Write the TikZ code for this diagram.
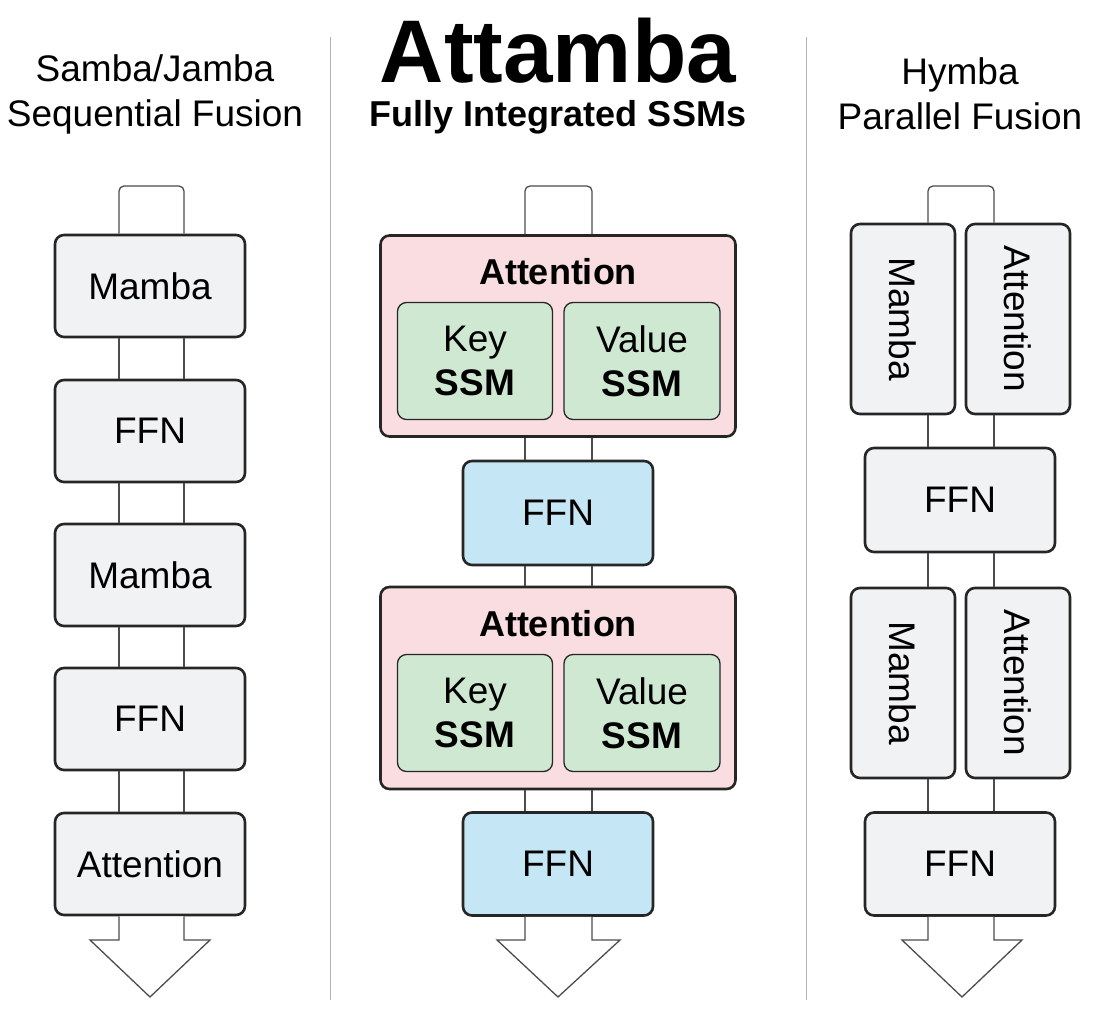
\documentclass[tikz,border=0pt]{standalone}
\usepackage{fontspec}
\setmainfont{Liberation Sans}
\begin{document}
\begin{tikzpicture}[x=1pt,y=-1pt,
 box/.style={draw=black!85,line width=2.6pt,rounded corners=9pt,fill=#1,inner sep=0pt,font=\fontsize{37}{44}\selectfont,align=center},
 box/.default={gray!8},
 conn/.style={draw=black!70,line width=1.3pt},
 div/.style={draw=gray!60,line width=1pt},
 ttl/.style={font=\fontsize{37}{45}\selectfont,align=center}]
\useasboundingbox (0,0) rectangle (1112,1010);
\definecolor{gbox}{HTML}{F1F2F4}
\definecolor{pbox}{HTML}{FADDE0}
\definecolor{grn}{HTML}{CFE8D2}
\definecolor{bbox}{HTML}{C5E6F4}
% dividers
\draw[div] (330,37) -- (330,1000);
\draw[div] (806,37) -- (806,1000);
% titles
\node[ttl] (t1) at (155,94) {Samba/Jamba\\Sequential Fusion};
\node[font=\fontsize{89}{89}\selectfont\bfseries,inner sep=0pt] (t2) at (558,51) {Attamba};
\node[font=\fontsize{36}{36}\selectfont\bfseries,inner sep=0pt] (t2b) at (558,117) {Fully Integrated SSMs};
\node[ttl] (t3) at (960,94) {Hymba\\Parallel Fusion};
% ---------- left
\newcommand{\lbox}[4]{\node[box=gbox,minimum width=190pt,minimum height=102pt] (#1) at (150,#2) {#3};}
\lbox{a1}{286}{Mamba}{}
\lbox{a2}{431}{FFN}{}
\lbox{a3}{575}{Mamba}{}
\lbox{a4}{719}{FFN}{}
\lbox{a5}{864}{Attention}{}
\foreach \u/\v in {a1/a2,a2/a3,a3/a4,a4/a5}{
 \draw[conn] (\u.south -| 119,0) -- (\v.north -| 119,0);
 \draw[conn] (\u.south -| 184,0) -- (\v.north -| 184,0);}
\draw[conn,rounded corners=5pt] (a1.north -| 119,0) -- (119,186) -- (184,186) -- (a1.north -| 184,0);
\coordinate (la) at (150,997);
\draw[conn,fill=white] (a5.south -| 119,0) -- (119,940) -- (90,940) -- (la) -- (210,940) -- (184,940) -- (a5.south -| 184,0);
% ---------- middle
\node[box=pbox,minimum width=355pt,minimum height=201pt] (b1) at (558,336) {};
\node[font=\fontsize{36}{36}\selectfont\bfseries] (b1t) at (558,272) {Attention};
\node[box=grn,line width=1.3pt,minimum width=155pt,minimum height=117pt] (b1k) at (475,361) {Key\\\textbf{SSM}};
\node[box=grn,line width=1.3pt,minimum width=156pt,minimum height=117pt] (b1v) at (642,361) {Value\\\textbf{SSM}};
\node[box=bbox,minimum width=190pt,minimum height=104pt] (b2) at (558,513) {FFN};
\node[box=pbox,minimum width=355pt,minimum height=202pt] (b3) at (558,688) {};
\node[font=\fontsize{36}{36}\selectfont\bfseries] (b3t) at (558,624) {Attention};
\node[box=grn,line width=1.3pt,minimum width=155pt,minimum height=117pt] (b3k) at (475,713) {Key\\\textbf{SSM}};
\node[box=grn,line width=1.3pt,minimum width=156pt,minimum height=117pt] (b3v) at (642,713) {Value\\\textbf{SSM}};
\node[box=bbox,minimum width=190pt,minimum height=103pt] (b4) at (558,864) {FFN};
\foreach \u/\v in {b1/b2,b2/b3,b3/b4}{
 \draw[conn] (\u.south -| 525,0) -- (\v.north -| 525,0);
 \draw[conn] (\u.south -| 592,0) -- (\v.north -| 592,0);}
\draw[conn,rounded corners=5pt] (b1.north -| 525,0) -- (525,186) -- (592,186) -- (b1.north -| 592,0);
\coordinate (ma) at (558,997);
\draw[conn,fill=white] (b4.south -| 525,0) -- (525,940) -- (497,940) -- (ma) -- (620,940) -- (592,940) -- (b4.south -| 592,0);
% ---------- right
\newcommand{\rbox}[4]{\node[box=gbox,minimum width=104pt,minimum height=190pt] (#1) at (#2,#3) {\rotatebox{-90}{#4}};}
\rbox{c1}{903}{319}{Mamba}
\rbox{c2}{1018}{319}{Attention}
\node[box=gbox,minimum width=190pt,minimum height=104pt] (c3) at (960,500) {FFN};
\rbox{c4}{903}{683}{Mamba}
\rbox{c5}{1018}{683}{Attention}
\node[box=gbox,minimum width=190pt,minimum height=103pt] (c6) at (960,864) {FFN};
\foreach \u/\v/\x in {c1/c3/928,c2/c3/994,c3/c4/928,c3/c5/994,c4/c6/928,c5/c6/994}{
 \draw[conn] (\u.south -| \x,0) -- (\v.north -| \x,0);}
\draw[conn,rounded corners=5pt] (c1.north -| 928,0) -- (928,186) -- (994,186) -- (c2.north -| 994,0);
\coordinate (ra) at (962,997);
\draw[conn,fill=white] (c6.south -| 928,0) -- (928,940) -- (902,940) -- (ra) -- (1022,940) -- (994,940) -- (c6.south -| 994,0);
\end{tikzpicture}
\end{document}
